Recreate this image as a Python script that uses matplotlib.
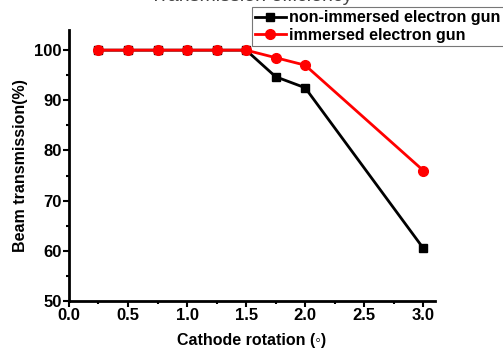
import matplotlib.pyplot as plt
from matplotlib.ticker import MultipleLocator

rotation = [0.25, 0.5, 0.75, 1.0, 1.25, 1.5, 1.75, 2.0, 3.0]
non_immersed = [100, 100, 100, 100, 100, 100, 94.7, 92.5, 60.5]
immersed = [100, 100, 100, 100, 100, 100, 98.5, 97.0, 76.0]

plt.rcParams['font.family'] = 'Liberation Sans'
plt.rcParams['font.weight'] = 'bold'

fig = plt.figure(figsize=(5.03, 3.54), dpi=100)
ax = fig.add_axes([0.137, 0.150, 0.728, 0.765])

ax.plot(rotation, non_immersed, color='black', lw=2, marker='s', ms=6,
        label='non-immersed electron gun')
ax.plot(rotation, immersed, color='red', lw=2, marker='o', ms=7,
        label='immersed electron gun')

ax.set_xlim(0, 3.1)
ax.set_ylim(50, 104)
ax.xaxis.set_major_locator(MultipleLocator(0.5))
ax.xaxis.set_minor_locator(MultipleLocator(0.25))
ax.yaxis.set_major_locator(MultipleLocator(10))
ax.yaxis.set_minor_locator(MultipleLocator(5))
ax.spines['top'].set_visible(False)
ax.spines['right'].set_visible(False)
for s in ('left', 'bottom'):
    ax.spines[s].set_linewidth(2)
ax.tick_params(which='major', direction='out', length=4, width=1.5, labelsize=12, pad=1)
ax.tick_params(which='minor', direction='out', length=2.5, width=1.5)
for lab in ax.get_xticklabels() + ax.get_yticklabels():
    lab.set_fontweight('bold')

ax.set_xlabel('Cathode rotation (◦)', fontsize=11.5, fontweight='bold', labelpad=7)
ax.set_ylabel('Beam transmission(%)', fontsize=11.5, fontweight='bold', labelpad=5)

fig.text(0.50, 1.011, 'Transmission efficiency', ha='center', va='center',
         fontsize=14, color='#444444', fontweight='normal')

leg = fig.legend(loc='upper left', bbox_to_anchor=(0.500, 0.980), fontsize=11.5,
                 frameon=True, fancybox=False, edgecolor='#555555',
                 borderpad=0.2, handlelength=1.95, handletextpad=0.2,
                 labelspacing=0.15, borderaxespad=0)
leg.get_frame().set_linewidth(0.8)
for t in leg.get_texts():
    t.set_fontweight('bold')

fig.savefig('out.png', dpi=100)
